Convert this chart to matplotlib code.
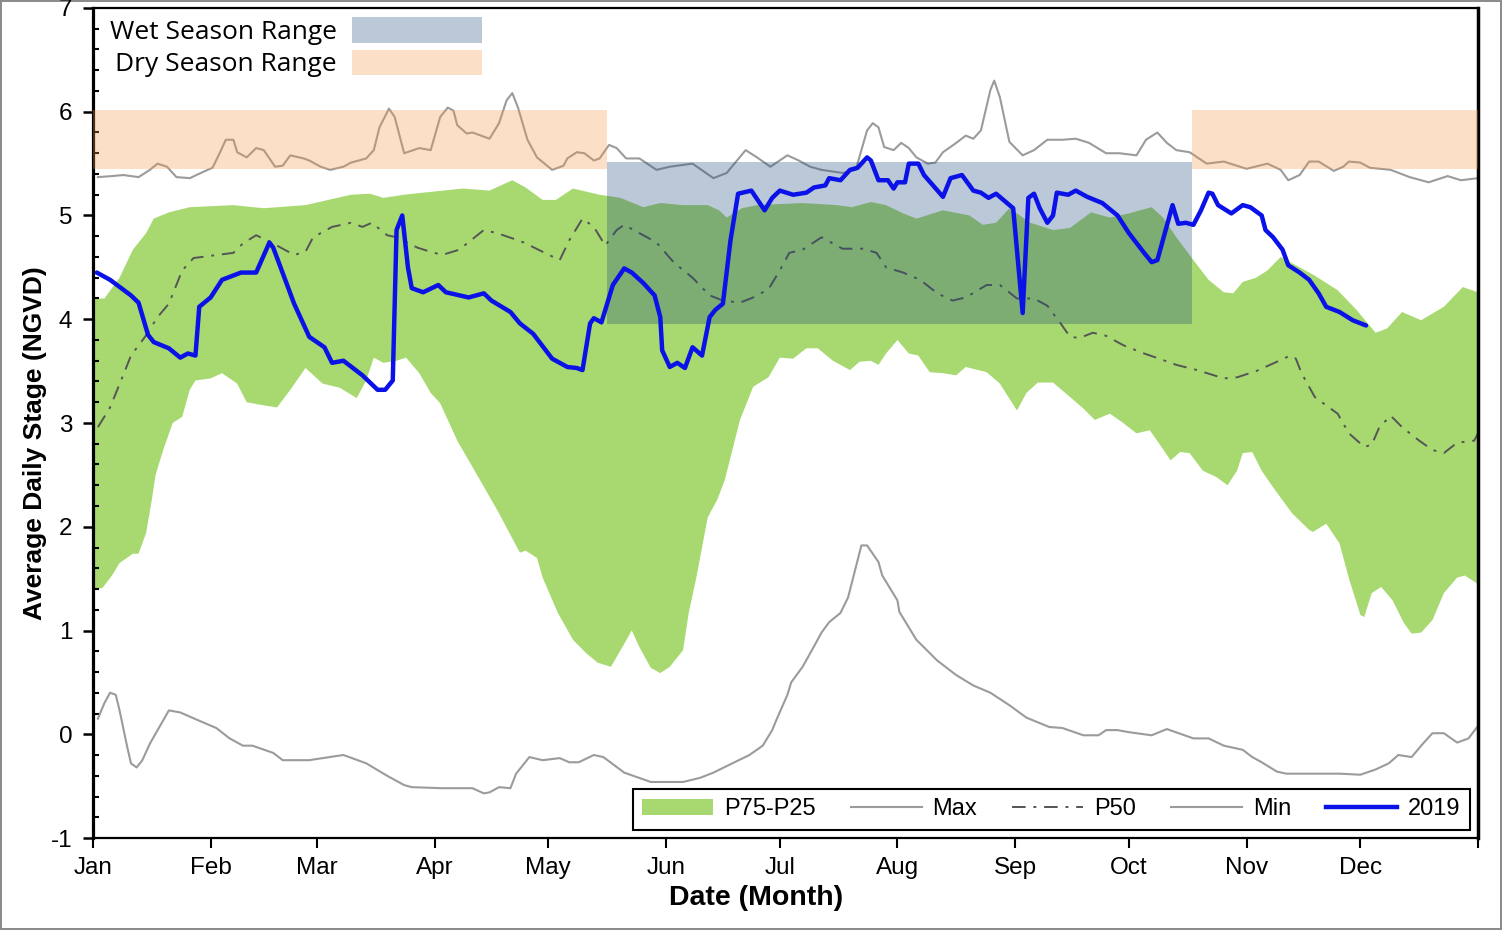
import matplotlib
matplotlib.use('Agg')
import matplotlib.pyplot as plt
from matplotlib.ticker import MultipleLocator
from matplotlib.lines import Line2D
from matplotlib.patches import Patch

plt.rcParams['font.family'] = ['Liberation Sans', 'DejaVu Sans']
plt.rcParams['axes.unicode_minus'] = False

# day offsets from Jan 1, stage in ft NGVD
p75_day = [0, 3, 7, 10.5, 14, 16, 20, 25.5, 37, 45, 56, 68, 73, 76.5, 82, 87, 97.5, 104.5, 110.5, 114,
           118.5, 122, 126.5, 133.5, 139, 145, 149.5, 155.5, 162, 165, 167, 171, 175, 187, 196, 200, 205,
           209, 213.5, 217, 224, 231, 234.5, 238, 241.5, 247, 253, 257.5, 263, 268, 273, 279, 282, 285.5,
           290, 294, 298, 300.5, 303, 306.5, 309.5, 313, 317, 322, 328, 333, 338, 341, 345, 350, 356, 361, 365]
p75_val = [4.20, 4.20, 4.40, 4.67, 4.83, 4.97, 5.03, 5.08, 5.10, 5.07, 5.10, 5.20, 5.21, 5.17, 5.20, 5.22,
           5.26, 5.24, 5.34, 5.27, 5.15, 5.15, 5.26, 5.20, 5.17, 5.08, 5.12, 5.10, 5.10, 5.05, 4.98, 5.07,
           5.10, 5.12, 5.10, 5.08, 5.13, 5.10, 5.02, 4.97, 5.05, 5.00, 4.91, 4.93, 5.07, 4.93, 4.86, 4.88,
           5.03, 4.98, 5.02, 5.08, 4.98, 4.79, 4.57, 4.38, 4.26, 4.25, 4.36, 4.40, 4.47, 4.60, 4.52, 4.42,
           4.28, 4.09, 3.87, 3.91, 4.07, 3.99, 4.12, 4.31, 4.26]

p25_day = [0, 2.5, 5, 7, 10.5, 12, 14, 15.5, 16.5, 18.5, 21, 23.5, 25.5, 27, 31, 34, 38, 40.5, 45, 48.5,
           52, 56, 60.5, 65, 69.5, 72, 74, 76.5, 80, 82.5, 86, 89, 91.5, 96, 102, 107, 112.5, 114, 117,
           118.5, 122.5, 126.5, 130, 133, 136.5, 139.5, 142, 144, 147, 149.5, 152, 155.5, 157, 159, 162,
           164.5, 166.5, 170.5, 174, 178, 181, 184.5, 188, 191, 195, 199.5, 202, 205, 207, 209, 212, 215,
           217.5, 220.5, 224, 227.5, 230, 235.5, 239, 243.5, 246, 249, 253, 257.5, 261, 264, 268, 271.5,
           275, 278.5, 281, 284, 286.5, 289, 292.5, 296, 299, 301.5, 303, 305.5, 308, 311, 316, 320.5,
           321.5, 325, 328.5, 331, 334, 335, 337, 339.5, 342.5, 345.5, 347.5, 350, 353, 356, 359.5,
           361.5, 364.5, 365]
p25_val = [1.39, 1.41, 1.53, 1.65, 1.74, 1.74, 1.94, 2.26, 2.50, 2.74, 3.00, 3.06, 3.32, 3.41, 3.43, 3.48,
           3.38, 3.20, 3.17, 3.15, 3.32, 3.53, 3.38, 3.34, 3.24, 3.41, 3.63, 3.58, 3.60, 3.63, 3.48, 3.29,
           3.19, 2.83, 2.45, 2.13, 1.75, 1.77, 1.70, 1.51, 1.17, 0.91, 0.78, 0.69, 0.65, 0.84, 1.00, 0.84,
           0.64, 0.59, 0.65, 0.81, 1.17, 1.51, 2.09, 2.26, 2.45, 3.03, 3.35, 3.44, 3.63, 3.62, 3.72, 3.72,
           3.60, 3.51, 3.59, 3.60, 3.56, 3.67, 3.80, 3.67, 3.65, 3.49, 3.48, 3.46, 3.54, 3.49, 3.38, 3.12,
           3.29, 3.39, 3.39, 3.25, 3.14, 3.03, 3.09, 3.00, 2.90, 2.93, 2.80, 2.64, 2.72, 2.71, 2.54, 2.48,
           2.40, 2.54, 2.71, 2.72, 2.54, 2.38, 2.13, 1.97, 1.95, 2.03, 1.84, 1.50, 1.15, 1.13, 1.36, 1.42,
           1.29, 1.07, 0.97, 0.98, 1.10, 1.36, 1.51, 1.53, 1.46, 1.44]

p50_day = [1.3, 4.5, 8.5, 10, 13.7, 17, 20, 23.5, 26.5, 37, 39.5, 43, 47.5, 53, 56, 58, 63, 68, 71, 73.5,
           77.5, 80, 85.5, 89, 92, 96.5, 103, 106.5, 110.5, 113.5, 118.5, 123, 125.5, 129, 132, 135, 138,
           140, 144, 148.5, 153, 158, 162.5, 166, 170.5, 174, 178, 181, 183.5, 187, 192, 197.5, 203, 206.5,
           209, 213.5, 218, 222.5, 226.5, 230, 235.5, 239, 243.5, 248, 251.5, 255, 257.5, 260, 263.5, 267,
           271.5, 277, 281, 285.5, 291, 298, 301.5, 306.5, 312, 315.5, 317, 318.5, 322, 328, 331, 335, 337,
           339, 342, 345, 349.5, 353, 356, 359.5, 364, 365]
p50_val = [2.96, 3.15, 3.51, 3.65, 3.83, 4.02, 4.15, 4.47, 4.59, 4.64, 4.73, 4.81, 4.73, 4.62, 4.65, 4.79,
           4.89, 4.93, 4.89, 4.93, 4.81, 4.79, 4.69, 4.65, 4.62, 4.67, 4.86, 4.83, 4.78, 4.74, 4.65, 4.57,
           4.76, 4.97, 4.89, 4.71, 4.86, 4.91, 4.83, 4.74, 4.55, 4.40, 4.23, 4.18, 4.16, 4.21, 4.29, 4.47,
           4.64, 4.67, 4.79, 4.68, 4.68, 4.64, 4.50, 4.45, 4.38, 4.25, 4.18, 4.21, 4.33, 4.33, 4.20, 4.20,
           4.13, 3.96, 3.83, 3.82, 3.87, 3.84, 3.75, 3.67, 3.62, 3.56, 3.51, 3.43, 3.44, 3.50, 3.59, 3.65,
           3.62, 3.48, 3.25, 3.09, 2.90, 2.77, 2.79, 2.96, 3.07, 2.96, 2.83, 2.74, 2.71, 2.81, 2.83, 2.90]

max_day = [1.3, 5, 8, 12, 15, 17, 19.5, 22, 25.5, 29, 31.5, 33.5, 35, 37, 38, 40.5, 43, 45, 48, 50, 52,
           55.5, 57, 60, 62.5, 66, 68, 72, 74, 75.5, 78, 79.5, 82, 86, 89, 91.5, 93.5, 95, 96, 98.5, 100,
           104.5, 107, 109, 110.5, 112, 114.5, 117, 121, 124, 125, 127.5, 129.5, 132, 133.5, 136, 138,
           140.5, 144, 148.5, 152, 158, 163.5, 167, 172, 175, 178.5, 183, 186, 189, 192, 197.5, 201, 204,
           205.5, 207, 208.5, 211, 213, 215, 217, 220, 222, 224, 227.5, 230, 232, 234, 236.5, 237.5, 239,
           241.5, 245, 248, 251.5, 255.5, 259, 262.5, 267, 270.5, 275, 277.5, 280.5, 283, 285.5, 289,
           293.5, 298, 304, 309.5, 313, 315, 318, 320.5, 323, 327, 329.5, 331, 334, 336.5, 342, 347, 352,
           357, 360.5, 365]
max_val = [5.37, 5.38, 5.39, 5.37, 5.44, 5.50, 5.47, 5.37, 5.36, 5.42, 5.46, 5.61, 5.73, 5.73, 5.61, 5.56,
           5.65, 5.63, 5.47, 5.48, 5.58, 5.55, 5.53, 5.47, 5.44, 5.47, 5.51, 5.55, 5.63, 5.85, 6.03, 5.95,
           5.60, 5.65, 5.63, 5.95, 6.04, 6.01, 5.87, 5.79, 5.80, 5.74, 5.89, 6.11, 6.18, 6.04, 5.73, 5.56,
           5.44, 5.48, 5.55, 5.61, 5.60, 5.53, 5.55, 5.68, 5.65, 5.55, 5.55, 5.44, 5.47, 5.50, 5.36, 5.41,
           5.63, 5.56, 5.47, 5.58, 5.53, 5.47, 5.44, 5.41, 5.44, 5.82, 5.89, 5.85, 5.66, 5.63, 5.70, 5.65,
           5.56, 5.50, 5.51, 5.61, 5.70, 5.77, 5.74, 5.82, 6.21, 6.30, 6.14, 5.71, 5.58, 5.63, 5.73, 5.73,
           5.74, 5.70, 5.60, 5.60, 5.58, 5.73, 5.80, 5.70, 5.63, 5.61, 5.50, 5.52, 5.45, 5.50, 5.44, 5.34,
           5.39, 5.52, 5.52, 5.43, 5.47, 5.52, 5.51, 5.46, 5.44, 5.37, 5.32, 5.38, 5.34, 5.36]

min_day = [1.3, 3, 4.5, 6, 7, 9, 10, 11.5, 13, 15, 17.5, 20, 23, 28, 32.5, 36, 39.5, 42, 47.5, 50, 57,
           60.5, 66, 72, 77.5, 82, 84, 92, 100, 103, 104.5, 107, 110, 111.5, 115, 118.5, 123, 125.5, 128,
           132, 134.5, 140, 147, 155.5, 160, 163.5, 168.5, 173, 176.5, 179, 180, 183, 184, 187, 189, 192,
           194, 197, 199, 202.5, 204, 207, 208, 212, 212.5, 217, 222.5, 227.5, 232, 236.5, 241.5, 246,
           252, 255.5, 261, 265, 267, 270, 273, 279, 283, 290, 294, 298, 303, 305.5, 308, 312, 314.5,
           328.5, 334, 338, 341.5, 344, 347.5, 350.5, 353, 356, 359.5, 362.5, 365]
min_val = [0.15, 0.30, 0.40, 0.38, 0.23, -0.12, -0.28, -0.32, -0.25, -0.09, 0.07, 0.23, 0.21, 0.13, 0.06,
           -0.04, -0.11, -0.11, -0.18, -0.25, -0.25, -0.23, -0.20, -0.28, -0.40, -0.49, -0.51, -0.52, -0.52,
           -0.57, -0.56, -0.51, -0.52, -0.38, -0.22, -0.25, -0.23, -0.27, -0.27, -0.20, -0.22, -0.37, -0.46,
           -0.46, -0.42, -0.37, -0.28, -0.20, -0.11, 0.04, 0.13, 0.38, 0.50, 0.65, 0.78, 0.98, 1.08, 1.17,
           1.32, 1.82, 1.82, 1.66, 1.53, 1.29, 1.18, 0.91, 0.71, 0.57, 0.47, 0.40, 0.28, 0.16, 0.07, 0.06,
           -0.01, -0.01, 0.04, 0.04, 0.02, -0.01, 0.05, -0.04, -0.04, -0.11, -0.15, -0.22, -0.27, -0.36,
           -0.38, -0.38, -0.39, -0.34, -0.28, -0.20, -0.22, -0.09, 0.01, 0.01, -0.08, -0.04, 0.08]

y2019_day = [1, 4.5, 10, 12, 14.5, 16, 20, 23, 25, 27, 28, 31, 34, 39, 43, 46.5, 47.5, 53, 57, 61, 63, 66,
             71, 75, 77, 79, 80, 81.5, 83, 84, 87, 91, 93, 99, 103, 105, 110, 112.5, 116, 121, 125, 127.5,
             129, 131, 132, 134, 137, 140, 142, 145, 148, 149.5, 150, 152, 154, 156, 158, 160.5, 162.5, 164,
             166, 168, 170, 173.5, 177, 179, 181, 184.5, 188, 190, 193, 194, 197, 199.5, 201.5, 204, 205,
             207, 209.5, 211, 212, 214, 215, 217.5, 219, 224, 226, 229, 232, 234, 236, 238, 242.5, 245,
             246.5, 248, 249.5, 251.5, 253, 254, 257, 259, 262, 266, 270, 273, 277, 279, 280.5, 284.5, 286,
             288, 290, 292, 294, 295, 296.5, 300, 303, 305, 308, 309, 311, 313.5, 315, 318, 320.5, 323, 325,
             328.5, 332, 335.5]
y2019_val = [4.45, 4.38, 4.23, 4.16, 3.85, 3.78, 3.72, 3.63, 3.67, 3.65, 4.12, 4.21, 4.38, 4.45, 4.45, 4.74,
             4.69, 4.15, 3.83, 3.73, 3.58, 3.60, 3.46, 3.32, 3.32, 3.41, 4.86, 5.00, 4.50, 4.30, 4.26, 4.33,
             4.26, 4.21, 4.25, 4.18, 4.07, 3.96, 3.86, 3.62, 3.54, 3.53, 3.51, 3.96, 4.01, 3.97, 4.33, 4.49,
             4.45, 4.35, 4.23, 4.02, 3.70, 3.54, 3.58, 3.53, 3.73, 3.65, 4.02, 4.09, 4.15, 4.76, 5.21, 5.24,
             5.05, 5.17, 5.24, 5.20, 5.22, 5.27, 5.29, 5.36, 5.34, 5.44, 5.46, 5.56, 5.53, 5.34, 5.34, 5.26,
             5.32, 5.32, 5.50, 5.50, 5.39, 5.18, 5.36, 5.39, 5.24, 5.22, 5.17, 5.21, 5.07, 4.06, 5.17, 5.21,
             5.07, 4.93, 5.00, 5.22, 5.20, 5.24, 5.18, 5.12, 5.00, 4.83, 4.64, 4.55, 4.57, 5.10, 4.92, 4.93,
             4.91, 5.05, 5.22, 5.21, 5.10, 5.02, 5.10, 5.08, 5.00, 4.86, 4.79, 4.67, 4.52, 4.45, 4.38, 4.25,
             4.12, 4.07, 3.99, 3.94]

# seasonal target ranges
wet_days = [135.5, 289.5]
wet_range = [3.95, 5.52]
dry_days_1 = [0, 135.5]
dry_days_2 = [289.5, 365]
dry_range = [5.45, 6.02]

month_starts = [0, 31, 59, 90, 120, 151, 181, 212, 243, 273, 304, 334, 365]
month_labels = ['Jan', 'Feb', 'Mar', 'Apr', 'May', 'Jun', 'Jul', 'Aug', 'Sep', 'Oct', 'Nov', 'Dec', '']

green = '#A7D970'
wet_color = '#1F497D'
dry_color = '#F79646'
grey = '#9b9b9b'
blue = '#0A12E8'
p50_style = (0, (7, 4, 1.5, 4))

fig = plt.figure(figsize=(15.02, 9.3), dpi=100)
fig.patch.set_edgecolor('#8c8c8c')
fig.patch.set_linewidth(1.5)
ax = fig.add_axes([93 / 1502, 1 - 838 / 930, (1478 - 93) / 1502, (838 - 8) / 930])

ax.fill(p75_day + p25_day[::-1], p75_val + p25_val[::-1], color=green, lw=0, zorder=1)

ax.plot(max_day, max_val, color=grey, lw=1.5, zorder=2)
ax.plot(min_day, min_val, color=grey, lw=1.5, zorder=2)
ax.plot(p50_day, p50_val, color='#555555', lw=1.4, ls=p50_style, zorder=2)

wet = ax.fill_between(wet_days, wet_range[0], wet_range[1], color=wet_color, alpha=0.3, lw=0, zorder=3,
                      label='Wet Season Range')
dry = ax.fill_between(dry_days_1, dry_range[0], dry_range[1], color=dry_color, alpha=0.3, lw=0, zorder=3,
                      label='Dry Season Range')
ax.fill_between(dry_days_2, dry_range[0], dry_range[1], color=dry_color, alpha=0.3, lw=0, zorder=3)

ax.plot(y2019_day, y2019_val, color=blue, lw=3.2, zorder=4, solid_capstyle='round')

ax.set_xlim(0, 365)
ax.set_ylim(-1, 7)
ax.set_xticks(month_starts)
ax.set_xticklabels(month_labels)
ax.set_yticks(range(-1, 8))
ax.yaxis.set_minor_locator(MultipleLocator(0.2))
ax.tick_params(axis='x', which='major', direction='out', length=7, width=1.5, labelsize=17.5, pad=7)
ax.tick_params(axis='y', which='major', direction='out', length=7, width=1.8, labelsize=17.5, pad=8)
ax.tick_params(axis='y', which='minor', direction='in', length=4.5, width=1.5)

ax.spines['left'].set_linewidth(2.3)
ax.spines['right'].set_linewidth(2.5)
ax.spines['top'].set_linewidth(1.6)
ax.spines['bottom'].set_linewidth(1.6)

ax.set_xlabel('Date (Month)', fontsize=20.5, fontweight='bold')
ax.xaxis.set_label_coords(0.479, -0.057)
ax.set_ylabel('Average Daily Stage (NGVD)', fontsize=19, fontweight='bold')
ax.yaxis.set_label_coords(-0.033, 0.476)

season_leg = ax.legend(handles=[wet, dry], loc='upper left', bbox_to_anchor=(17 / 1385, 1 - 9 / 830),
                       frameon=False, markerfirst=False, handlelength=4.95, handleheight=1.12,
                       handletextpad=0.55, labelspacing=0.18, borderaxespad=0, borderpad=0,
                       prop={'family': 'Open Sans', 'size': 19})
ax.add_artist(season_leg)

handles = [Patch(facecolor=green, edgecolor='none'),
           Line2D([], [], color=grey, lw=1.5),
           Line2D([], [], color='#555555', lw=1.4, ls=p50_style),
           Line2D([], [], color=grey, lw=1.5),
           Line2D([], [], color=blue, lw=3.2)]
leg = ax.legend(handles, ['P75-P25', 'Max', 'P50', 'Min', '2019'], loc='lower right', ncol=5,
                fontsize=17, frameon=True, fancybox=False, edgecolor='black', handlelength=3.0,
                handletextpad=0.45, columnspacing=1.5, borderaxespad=0.35, borderpad=0.4)
leg.get_frame().set_linewidth(1.5)
leg.get_frame().set_alpha(1)

fig.savefig('out.png', dpi=100)
